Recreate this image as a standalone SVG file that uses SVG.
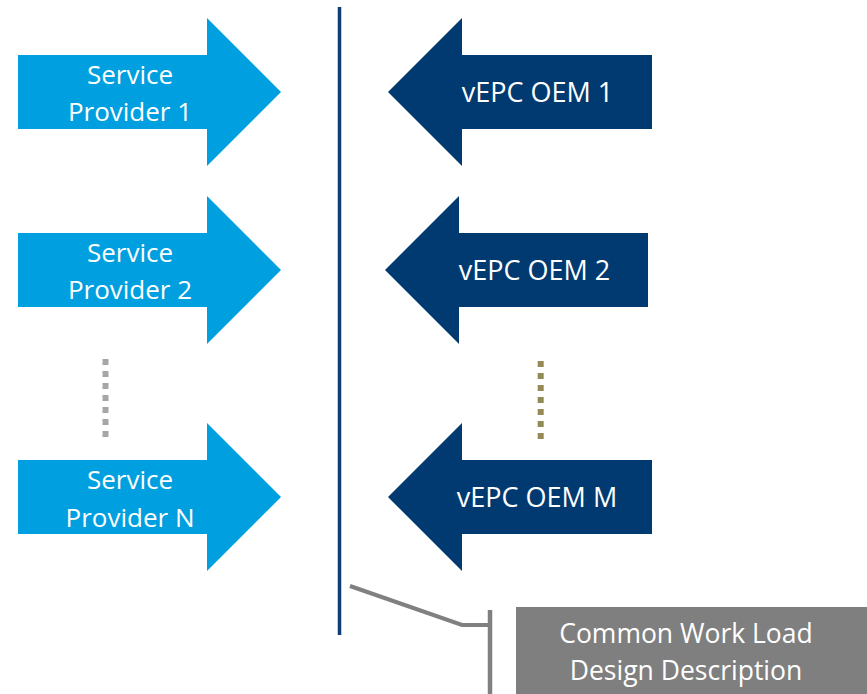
<svg xmlns="http://www.w3.org/2000/svg" width="867" height="694" viewBox="0 0 867 694">
<style>
.sp{fill:#009FDF}
.oem{fill:#003A70}
.t{font-family:"Open Sans","Noto Sans",sans-serif;fill:#FFFFFF;text-anchor:middle}
.ts{font-size:26px}
.to{font-size:27px}
.tc{font-size:26.5px}
.dots{fill:none;stroke-width:6;stroke-dasharray:6 6}
</style>
<rect width="867" height="694" fill="#FFFFFF"/>
<g id="sp1">
<polygon class="sp" points="18,55 207,55 207,18 281,92 207,166 207,129 18,129"/>
<text class="t ts" x="130" y="84">Service</text>
<text class="t ts" x="130" y="121">Provider 1</text>
</g>
<g id="sp2">
<polygon class="sp" points="18,233 207,233 207,196 281,270 207,344 207,307 18,307"/>
<text class="t ts" x="130" y="262">Service</text>
<text class="t ts" x="130" y="299">Provider 2</text>
</g>
<g id="spn">
<polygon class="sp" points="18,460 207,460 207,423 281,497 207,571 207,534 18,534"/>
<text class="t ts" x="130" y="489">Service</text>
<text class="t ts" x="130" y="527">Provider N</text>
</g>
<g id="oem1">
<polygon class="oem" points="652,55 462,55 462,18 388,92 462,166 462,129 652,129"/>
<text class="t to" x="537.5" y="102">vEPC OEM 1</text>
</g>
<g id="oem2">
<polygon class="oem" points="648,233 459,233 459,196 385,270 459,344 459,307 648,307"/>
<text class="t to" x="534.5" y="280">vEPC OEM 2</text>
</g>
<g id="oemm">
<polygon class="oem" points="652,460 462,460 462,423 388,497 462,571 462,534 652,534"/>
<text class="t to" x="537" y="507">vEPC OEM M</text>
</g>
<g id="callout">
<rect x="516" y="607" width="351" height="87" fill="#7F7F7F"/>
<text class="t tc" x="686" y="643">Common Work Load</text>
<text class="t tc" x="686" y="680">Design Description</text>
</g>
<g id="connectors">
<line x1="339.5" y1="7" x2="339.5" y2="635" stroke="#0E3C73" stroke-width="3.5"/>
<line class="dots" x1="105.5" y1="359" x2="105.5" y2="437" stroke="#A6A6A6"/>
<line class="dots" x1="540.7" y1="361" x2="540.7" y2="439" stroke="#948A54"/>
<polyline points="350,586 462,625 490,625" fill="none" stroke="#808080" stroke-width="4"/>
<line x1="490" y1="610" x2="490" y2="694" stroke="#808080" stroke-width="4.5"/>
</g>
</svg>
